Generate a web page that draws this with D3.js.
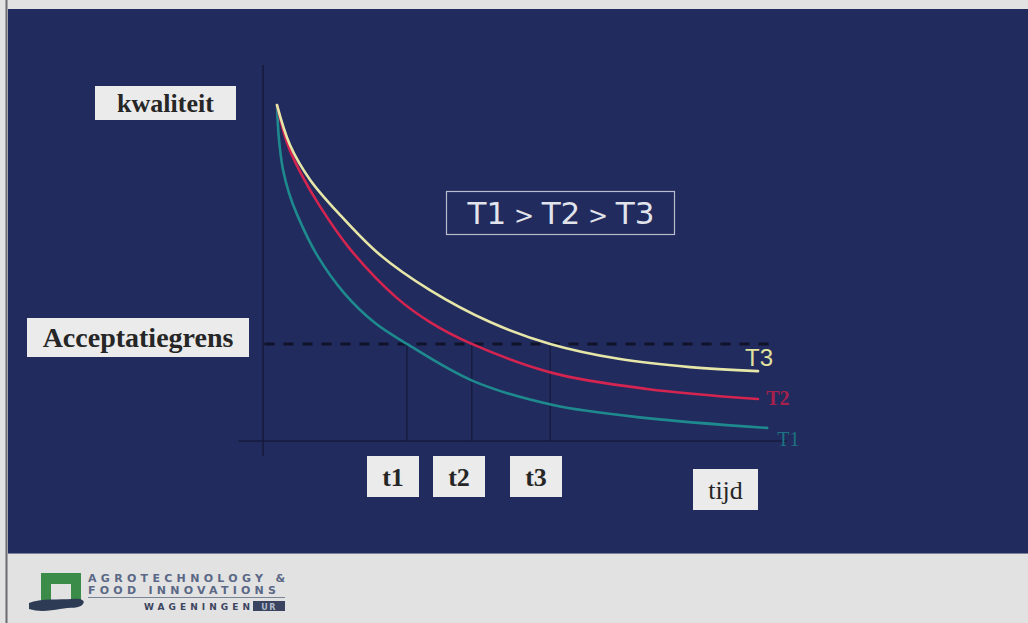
<!DOCTYPE html>
<html>
<head>
<meta charset="utf-8">
<script src="https://cdn.jsdelivr.net/npm/d3@7"></script>
<style>
  html, body { margin: 0; padding: 0; background: #e2e2e2; }
  svg { display: block; }
</style>
</head>
<body>
<svg id="chart" width="1028" height="623"></svg>
<script>
// Quality (0-100) over time (0-100) for three storage temperatures
const seriesNames = ["T1", "T2", "T3"];
const timeT3 = [0, 2.7, 6.9, 13.1, 21.4, 31.8, 44.3, 56.8, 71.3, 85.9, 100];
const qualT3 = [100, 88.1, 77.7, 67.3, 55.4, 44.9, 35.4, 28.9, 24.4, 22.0, 20.8];
const timeT2 = [0, 2.1, 4.8, 8.9, 15.2, 24.9, 31.8, 40.5, 57.4, 76.9, 100];
const qualT2 = [100, 88.7, 80.1, 69.9, 57.1, 42.6, 35.4, 28.9, 20.2, 15.5, 12.5];
const timeT1 = [0, 0.4, 1.25, 2.5, 4.2, 8.3, 14.1, 20.4, 27.0, 40.7, 57.4, 76.9, 101.9];
const qualT1 = [100, 89.9, 80.7, 73.8, 67.3, 55.4, 43.8, 35.1, 28.9, 17.9, 10.7, 6.8, 3.9];

// Acceptance limit and the times each curve reaches it
const acceptance = 28.9;
const crossTimes = [27.0, 40.5, 56.8];
const crossLabels = ["t1", "t2", "t3"];

const svg = d3.select("#chart");
const W = 1028, H = 623;

// Slide background
svg.append("rect").attr("x", 0).attr("y", 0).attr("width", W).attr("height", H).attr("fill", "#e2e2e2");
svg.append("rect").attr("x", 8).attr("y", 9).attr("width", W - 8).attr("height", 544).attr("fill", "#212b5e");
svg.append("line").attr("x1", 6.5).attr("x2", 6.5).attr("y1", 0).attr("y2", H).attr("stroke", "#6a6a70").attr("stroke-width", 2);
svg.append("line").attr("x1", 8).attr("x2", W).attr("y1", 553.5).attr("y2", 553.5).attr("stroke", "#7c8098").attr("stroke-width", 1);

// Scales
const x = d3.scaleLinear().domain([0, 100]).range([277, 758]);
const y = d3.scaleLinear().domain([0, 100]).range([441, 105]);

// Axes (plain dark lines)
svg.append("line").attr("x1", x(-2.9)).attr("x2", x(-2.9)).attr("y1", 65).attr("y2", 456)
  .attr("stroke", "#161b3c").attr("stroke-width", 1.6);
svg.append("line").attr("x1", x(-8)).attr("x2", x(106)).attr("y1", y(0)).attr("y2", y(0))
  .attr("stroke", "#161b3c").attr("stroke-width", 1.6);

// Acceptance limit (dashed)
svg.append("line").attr("x1", x(-2.6)).attr("x2", x(104)).attr("y1", y(acceptance)).attr("y2", y(acceptance))
  .attr("stroke", "#10132a").attr("stroke-width", 3).attr("stroke-dasharray", "10,9");

// Drop lines from the crossing points
svg.selectAll("line.drop").data(crossTimes).enter().append("line")
  .attr("class", "drop")
  .attr("x1", d => x(d)).attr("x2", d => x(d))
  .attr("y1", y(acceptance)).attr("y2", y(0))
  .attr("stroke", "#161b3c").attr("stroke-width", 1.3);

// Curves
const line = d3.line().x(d => x(d[0])).y(d => y(d[1])).curve(d3.curveCatmullRom.alpha(0.5));
const curves = [
  { name: "T1", t: timeT1, q: qualT1, color: "#1e8a8e" },
  { name: "T2", t: timeT2, q: qualT2, color: "#d42450" },
  { name: "T3", t: timeT3, q: qualT3, color: "#e6e6a8" }
];
curves.forEach(c => {
  svg.append("path")
    .datum(d3.zip(c.t, c.q))
    .attr("d", line)
    .attr("fill", "none")
    .attr("stroke", c.color)
    .attr("stroke-width", 2.6)
    .attr("stroke-linecap", "round");
});

// Curve end labels
svg.append("text").attr("x", x(97.3)).attr("y", y(qualT3[qualT3.length - 1]) - 5)
  .attr("font-family", "Liberation Sans, Arial, sans-serif").attr("font-size", 24)
  .attr("fill", "#e2e2a0").text("T3");
svg.append("text").attr("x", x(101.7)).attr("y", y(qualT2[qualT2.length - 1]) + 6)
  .attr("font-family", "Liberation Serif, serif").attr("font-size", 20).attr("font-weight", "bold")
  .attr("fill", "#c82048").attr("opacity", 0.8).text("T2");
svg.append("text").attr("x", x(104)).attr("y", y(qualT1[qualT1.length - 1]) + 18)
  .attr("font-family", "Liberation Serif, serif").attr("font-size", 20)
  .attr("fill", "#1d8088").attr("opacity", 0.85).text("T1");

// Boxed labels
function boxLabel(bx, by, bw, bh, txt, size, weight) {
  svg.append("rect").attr("x", bx).attr("y", by).attr("width", bw).attr("height", bh)
    .attr("fill", "#ebebeb");
  svg.append("text")
    .attr("x", bx + bw / 2)
    .attr("y", by + bh / 2)
    .attr("dy", "0.35em")
    .attr("text-anchor", "middle")
    .attr("font-family", "Liberation Serif, Times New Roman, serif")
    .attr("font-size", size)
    .attr("font-weight", weight)
    .attr("fill", "#262626")
    .text(txt);
}
boxLabel(95, 86, 141, 34, "kwaliteit", 26, "bold");
boxLabel(27, 318, 222, 39, "Acceptatiegrens", 28, "bold");
const boxCenters = [393, 459, 536];
crossTimes.forEach((t, i) => {
  boxLabel(boxCenters[i] - 26, 456, 52, 41, crossLabels[i], 26, "bold");
});
boxLabel(693, 469, 65, 41, "tijd", 26, "normal");

// Temperature ordering
svg.append("rect").attr("x", 446.5).attr("y", 191.5).attr("width", 228).attr("height", 43)
  .attr("fill", "none").attr("stroke", "#b8bccc").attr("stroke-width", 1.2);
const order = svg.append("text").attr("x", 561).attr("y", 213).attr("dy", "0.36em").attr("text-anchor", "middle")
  .attr("font-family", "DejaVu Sans, Verdana, sans-serif").attr("font-size", 31)
  .attr("fill", "#e2e4ec");
seriesNames.forEach((n, i) => {
  if (i > 0) order.append("tspan").attr("font-size", 24).text(" > ");
  order.append("tspan").text(n);
});

// Footer logo
const logo = svg.append("g");
logo.append("path")
  .attr("d", "M41,573 H81 V602 H71 V584 H51 V602 H41 Z")
  .attr("fill", "#3a8c48");
logo.append("path")
  .attr("d", "M29,603 C40,598 60,600 72,599 C80,598 86,600 83,604 C80,609 70,607 60,609 C50,611 38,612 29,609 Z")
  .attr("fill", "#2e3b55");
const logoFont = "DejaVu Sans, Verdana, sans-serif";
logo.append("text").attr("x", 88).attr("y", 582)
  .attr("font-family", logoFont).attr("font-size", 11).attr("font-weight", "bold")
  .attr("textLength", 197).attr("lengthAdjust", "spacing")
  .attr("fill", "#5a6886").text("AGROTECHNOLOGY &");
logo.append("text").attr("x", 88).attr("y", 594)
  .attr("font-family", logoFont).attr("font-size", 11).attr("font-weight", "bold")
  .attr("textLength", 188).attr("lengthAdjust", "spacing")
  .attr("fill", "#5a6886").text("FOOD INNOVATIONS");
logo.append("line").attr("x1", 88).attr("x2", 285).attr("y1", 597.5).attr("y2", 597.5)
  .attr("stroke", "#7a8296").attr("stroke-width", 1);
logo.append("text").attr("x", 144).attr("y", 610)
  .attr("font-family", logoFont).attr("font-size", 9).attr("font-weight", "bold")
  .attr("textLength", 106).attr("lengthAdjust", "spacing")
  .attr("fill", "#3c4560").text("WAGENINGEN");
logo.append("rect").attr("x", 253).attr("y", 601).attr("width", 32).attr("height", 10).attr("fill", "#3a4460");
logo.append("text").attr("x", 269).attr("y", 609.5).attr("text-anchor", "middle")
  .attr("font-family", logoFont).attr("font-size", 8).attr("font-weight", "bold").attr("letter-spacing", 1.5)
  .attr("fill", "#b4bccc").text("UR");
</script>
</body>
</html>
